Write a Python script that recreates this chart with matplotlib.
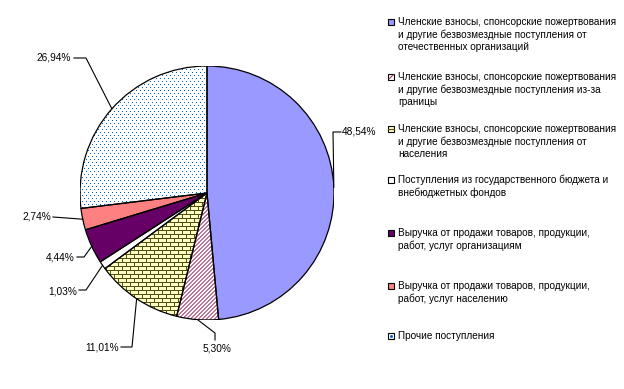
import numpy as np
import matplotlib
matplotlib.use('Agg')
import matplotlib.pyplot as plt
import matplotlib.transforms as mtransforms
from matplotlib.patches import Wedge, Rectangle
from matplotlib.collections import LineCollection

categories = [
    'Членские взносы, спонсорские пожертвования\nи другие безвозмездные поступления от\nотечественных организаций',
    'Членские взносы, спонсорские пожертвования\nи другие безвозмездные поступления из-за\nграницы',
    'Членские взносы, спонсорские пожертвования\nи другие безвозмездные поступления от\nнаселения',
    'Поступления из государственного бюджета и\nвнебюджетных фондов',
    'Выручка от продажи товаров, продукции,\nработ, услуг организациям',
    'Выручка от продажи товаров, продукции,\nработ, услуг населению',
    'Прочие поступления',
]
shares = [48.54, 5.30, 11.01, 1.03, 4.44, 2.74, 26.94]
colors = ['#9999FF', 'white', '#FFFFCC', 'white', '#660066', '#FF8080', 'white']

plt.rcParams['font.family'] = ['Liberation Sans', 'DejaVu Sans']

W, H = 624, 389
CX, CY, R = 207, 193, 127
fig = plt.figure(figsize=(W / 100, H / 100), dpi=100)
ax = fig.add_axes([(CX - R) / W, (H - CY - R) / H, 2 * R / W, 2 * R / H])
# pixel coords, origin top-left
px = mtransforms.Affine2D().scale(1 / W, -1 / H).translate(0, 1) + fig.transFigure


def to_data(x, y):
    return (x - CX) / R, (CY - y) / R


wedges, _ = ax.pie(shares, colors=colors, startangle=90, counterclock=False,
                   radius=1, wedgeprops=dict(edgecolor='none'))
ax.set_xlim(-1, 1)
ax.set_ylim(-1, 1)
ax.set_aspect('equal')
ax.axis('off')

u = 1 / R  # one pixel in data units

# diagonal hatch (5,30%)
segs = [[(-1.2, -1.2 + c), (1.2, 1.2 + c)] for c in np.arange(-2.5, 2.5, 4 * u)]
lc = LineCollection(segs, colors='#993366', linewidths=0.7)
lc.set_clip_path(wedges[1])
ax.add_collection(lc)

# brick pattern (11,01%)
bh, bw = 4 * u, 8 * u
segs = []
for k, y in enumerate(np.arange(-1.05, 0.1, bh)):
    segs.append([(-1.05, y), (0.1, y)])
    for x in np.arange(-1.05 + (k % 2) * bw / 2, 0.1, bw):
        segs.append([(x, y), (x, y + bh)])
lc = LineCollection(segs, colors='#4d4d00', linewidths=0.7)
lc.set_clip_path(wedges[2])
ax.add_collection(lc)

# dotted pattern (26,94%)
pts = []
for k, y in enumerate(np.arange(-0.4, 1.05, 3 * u)):
    for x in np.arange(-1.05 + (k % 2) * 2 * u, 0.05, 4 * u):
        pts.append((x, y))
pts = np.array(pts)
dots, = ax.plot(pts[:, 0], pts[:, 1], ',', color='#0066CC')
dots.set_clip_path(wedges[6])

# outlines on top
for w in wedges:
    ax.add_patch(Wedge(w.center, w.r, w.theta1, w.theta2, fill=False,
                       edgecolor='black', linewidth=0.9, zorder=5))

# labels with leader lines
pct_labels = [f'{v:.2f}%'.replace('.', ',') for v in shares]
leader_px = [
    [(333, 132), (341, 132)],
    [(215, 333), (215, 340)],
    [(132, 347), (121, 347)],
    [(86, 290), (79, 290)],
    [(84, 257), (77, 257)],
    [(53, 217)],
    [(86, 58), (74, 58)],
]
text_px = [(342, 131, 'left'), (217, 349, 'center'), (119, 348, 'right'),
           (77, 292, 'right'), (75, 258, 'right'), (51, 217, 'right'), (71, 57, 'right')]

cum = 0
for i, v in enumerate(shares):
    mid = np.radians(90 - 360 * (cum + v / 2) / 100)
    cum += v
    pts_l = [(np.cos(mid), np.sin(mid))] + [to_data(*p) for p in leader_px[i]]
    xs, ys = zip(*pts_l)
    ax.plot(xs, ys, color='black', lw=0.8, clip_on=False, zorder=6)
    tx, ty, ha = text_px[i]
    fig.text(tx, ty, pct_labels[i], transform=px, ha=ha, va='center', fontsize=7.3)

# legend
leg_y = [22, 77, 129, 180, 233, 286, 336]
for i, (lab, y) in enumerate(zip(categories, leg_y)):
    fig.text(398, y - 5, lab, transform=px, ha='left', va='top', fontsize=7.2,
             linespacing=1.27)
    fig.add_artist(Rectangle((388, y + 3), 6, -6, transform=px, facecolor=colors[i],
                             edgecolor='black', linewidth=0.8))
    if i == 1:
        fig.add_artist(plt.Line2D([389, 393], [y + 2, y - 2], transform=px,
                                  color='#993366', lw=0.8))
    elif i == 2:
        fig.add_artist(plt.Line2D([388, 394], [y, y], transform=px,
                                  color='#4d4d00', lw=0.8))
    elif i == 6:
        fig.add_artist(plt.Line2D([391], [y], transform=px, marker='s', ms=1,
                                  color='#0066CC', lw=0))

fig.savefig('out.png', dpi=100)
